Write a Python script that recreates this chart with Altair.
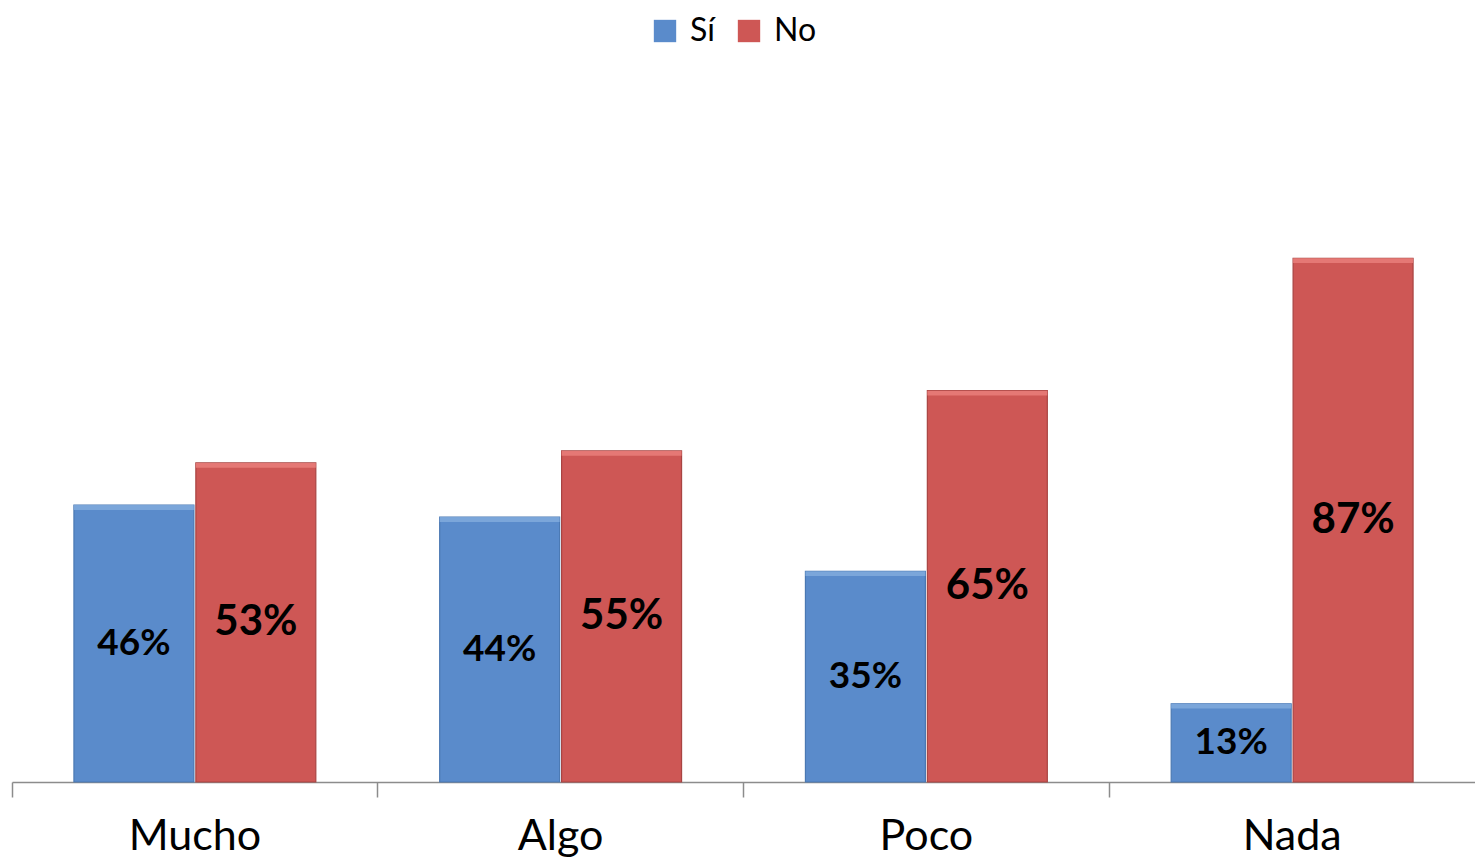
import altair as alt
import pandas as pd

categories = ["Mucho", "Algo", "Poco", "Nada"]
series = ["Sí", "No"]
si_values = [46, 44, 35, 13]
no_values = [53, 55, 65, 87]
colors = ["#5A8BCB", "#CE5755"]
stroke_colors = ["#4A78B2", "#A84442"]
highlight_colors = ["#7EA8DC", "#E87C79"]
label_sizes = [37, 42]

rows = []
for c, s, n in zip(categories, si_values, no_values):
    rows.append({"cat": c, "serie": "Sí", "valor": s})
    rows.append({"cat": c, "serie": "No", "valor": n})
df = pd.DataFrame(rows)

W = 1463
H = 602

x_enc = alt.X(
    "cat:N", sort=categories, title=None,
    scale=alt.Scale(paddingInner=0, paddingOuter=0),
    axis=alt.Axis(
        bandPosition=0, labelAngle=0,
        labelFont="Lato", labelFontSize=43, labelColor="black",
        labelBaseline="alphabetic", labelPadding=52,
        tickSize=15, tickColor="#8c8c8c", tickWidth=1.5,
        domainColor="#8c8c8c", domainWidth=1.5, grid=False,
    ),
)
xoff = alt.XOffset("serie:N", sort=series,
                   scale=alt.Scale(paddingInner=0.016, paddingOuter=0.508))
y_scale = alt.Scale(domain=[0, 100])

bars = alt.Chart(df).mark_bar(strokeWidth=1.2).encode(
    x=x_enc,
    xOffset=xoff,
    y=alt.Y("valor:Q", scale=y_scale, axis=None),
    color=alt.Color(
        "serie:N", sort=series,
        scale=alt.Scale(domain=series, range=colors),
        legend=alt.Legend(
            orient="none", legendX=637, legendY=-165, direction="horizontal",
            title=None, symbolType="square", symbolSize=500,
            labelFont="Lato", labelFontSize=32, labelColor="black",
            labelOffset=9, columnPadding=18, symbolStrokeWidth=0,
        ),
    ),
    stroke=alt.Stroke("serie:N", sort=series,
                      scale=alt.Scale(domain=series, range=stroke_colors),
                      legend=None),
)

highlight = alt.Chart(df).transform_calculate(
    lower="datum.valor - 0.8"
).mark_bar(opacity=0.9).encode(
    x=x_enc,
    xOffset=xoff,
    y=alt.Y("valor:Q", scale=y_scale, axis=None),
    y2="lower:Q",
    fill=alt.Fill("serie:N", sort=series,
                  scale=alt.Scale(domain=series, range=highlight_colors),
                  legend=None),
)


def label_layer(name, size):
    return alt.Chart(df).transform_filter(
        alt.datum.serie == name
    ).transform_calculate(
        mid="datum.valor / 2", lab="datum.valor + '%'"
    ).mark_text(
        font="Lato", fontWeight="bold", color="black", baseline="middle",
        fontSize=size,
    ).encode(
        x=x_enc,
        xOffset=xoff,
        y=alt.Y("mid:Q", scale=y_scale, axis=None),
        text="lab:N",
    )


labels = [label_layer(s, z) for s, z in zip(series, label_sizes)]

chart = alt.layer(bars, highlight, *labels).properties(
    width=W, height=H,
    autosize=alt.AutoSizeParams(type="none"),
    padding={"left": 4, "top": 172, "right": 0, "bottom": 77},
).configure_view(stroke=None)

chart.save("out.html", embed_options={"renderer": "svg", "actions": False})
